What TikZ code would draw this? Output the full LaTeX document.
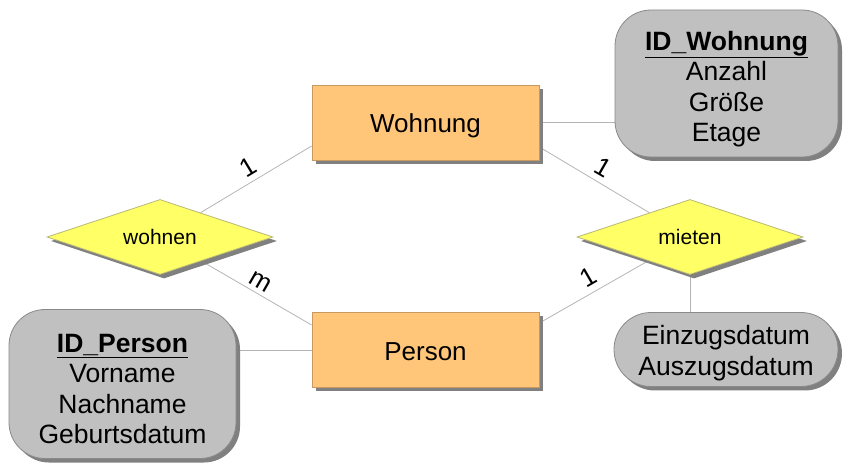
\documentclass[tikz,border=0pt]{standalone}
\usepackage{fontspec}
\setmainfont{Liberation Sans}
\usetikzlibrary{shapes.geometric,shadows,calc}
\definecolor{entfill}{HTML}{FFC67A}
\definecolor{entdraw}{HTML}{C89A60}
\definecolor{relfill}{HTML}{FFFF66}
\definecolor{reldraw}{HTML}{B8B878}
\definecolor{attfill}{HTML}{C0C0C0}
\definecolor{attdraw}{HTML}{8A8A8A}
\definecolor{shd}{HTML}{808080}
\definecolor{conn}{HTML}{B4B4B4}
\pgfdeclarelayer{background}
\pgfsetlayers{background,main}
\tikzset{
  shd/.style={drop shadow={shadow xshift=4pt,shadow yshift=-4pt,fill=shd,opacity=1}},
  entity/.style={rectangle,draw=entdraw,fill=entfill,line width=0.8pt,inner sep=0pt,
     minimum width=227pt,minimum height=75pt,shd},
  enttext/.style={font=\fontsize{26pt}{30pt}\selectfont,inner sep=0pt},
  relation/.style={diamond,draw=reldraw,fill=relfill,line width=0.8pt,inner sep=0pt,
     minimum width=226pt,minimum height=75pt,aspect=3,shd,font=\fontsize{21pt}{24pt}\selectfont},
  attrib/.style={rectangle,rounded corners=36pt,draw=attdraw,fill=attfill,line width=0.8pt,inner sep=0pt,shd},
  atttext/.style={align=center,inner sep=0pt,font=\fontsize{26.5pt}{30.5pt}\selectfont},
  conline/.style={draw=conn,line width=0.8pt},
  card/.style={font=\fontsize{26pt}{28pt}\selectfont,inner sep=0pt}
}
\begin{document}
\begin{tikzpicture}[x=1pt,y=-1pt]
\useasboundingbox (0,0) rectangle (852,470);
% entities
\node[entity] (wohnung) at (425.5,122.5) {};
\node[enttext] (wohnungT) at (425.5,125.5) {Wohnung};
\node[entity] (person) at (425.5,350) {};
\node[enttext] (personT) at (425.5,352) {Person};
% relations
\node[relation] (wohnen) at (160,237) {wohnen};
\node[relation] (mieten) at (690,237) {mieten};
% attributes
\node[attrib,minimum width=223pt,minimum height=147pt] (idw) at (726.5,83.5) {};
\node[atttext] (idwT) at (726.5,89)
  {\underline{\textbf{ID\_Wohnung}}\\Anzahl\\Größe\\Etage};
\node[attrib,minimum width=227pt,minimum height=149pt] (idp) at (122.5,384) {};
\node[atttext] (idpT) at (122.5,389)
  {\underline{\textbf{ID\_Person}}\\Vorname\\Nachname\\Geburtsdatum};
\node[attrib,rounded corners=37pt,minimum width=224pt,minimum height=74pt] (dat) at (726,349.5) {};
\node[atttext] (datT) at (726,353)
  {Einzugsdatum\\Auszugsdatum};
% connection points
\coordinate (wl1) at ($(wohnung.west)+(0,23.5)$);
\coordinate (wr1) at ($(wohnung.east)+(0,24.5)$);
\coordinate (pl1) at ($(person.west)+(0,-25)$);
\coordinate (pr1) at ($(person.east)+(0,-27)$);
\begin{pgfonlayer}{background}
\draw[conline] (wohnen) -- (wl1);
\draw[conline] (wohnen) -- (pl1);
\draw[conline] (mieten) -- (wr1);
\draw[conline] (mieten) -- (pr1);
\draw[conline] (wohnung.east) -- (wohnung.east -| idw.west);
\draw[conline] (person.west) -- (person.west -| idp.east);
\draw[conline] (mieten.south) -- (mieten.south |- dat.north);
\end{pgfonlayer}
% cardinalities
\node[card,rotate=31] (c1) at (248,167) {1};
\node[card,rotate=-30] (c2) at (260,282) {m};
\node[card,rotate=-30] (c3) at (603,167) {1};
\node[card,rotate=30] (c4) at (588,277) {1};
\end{tikzpicture}
\end{document}
